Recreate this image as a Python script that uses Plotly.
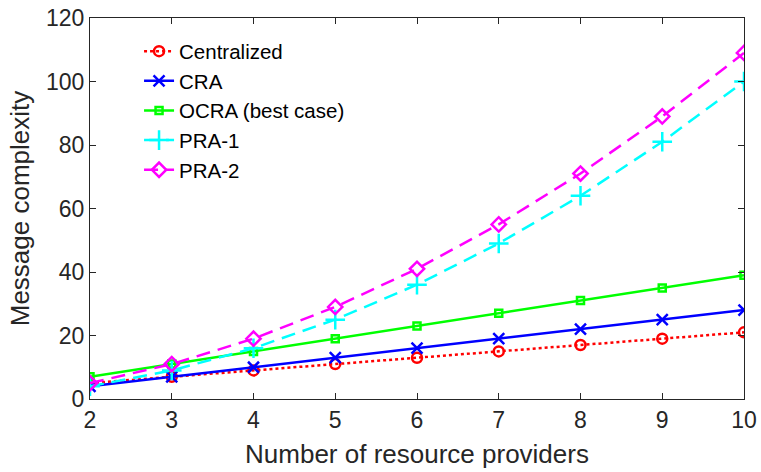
import plotly.graph_objects as go

providers = [2, 3, 4, 5, 6, 7, 8, 9, 10]
centralized = [5, 7, 9, 11, 13, 15, 17, 19, 21]
cra = [4, 7, 10, 13, 16, 19, 22, 25, 28]
ocra_best = [7, 11, 15, 19, 23, 27, 31, 35, 39]
pra1 = [4, 9, 16, 25, 36, 49, 64, 81, 100]
pra2 = [5, 11, 19, 29, 41, 55, 71, 89, 109]

x_ticks = [2, 3, 4, 5, 6, 7, 8, 9, 10]
y_ticks = [0, 20, 40, 60, 80, 100, 120]

FONT = "Liberation Sans, Arial, Helvetica, sans-serif"
AX = "#262626"

series = [
    ("Centralized", centralized, "#ff0000", "dot", "circle-open", 10, 2.5),
    ("CRA", cra, "#0000ff", "solid", "x-thin-open", 11, 2.5),
    ("OCRA (best case)", ocra_best, "#00ff00", "solid", "square-open", 7, 2.5),
    ("PRA-1", pra1, "#00ffff", "14px,8px", "cross-thin-open", 14, 2.5),
    ("PRA-2", pra2, "#ff00ff", "14px,8px", "diamond-open", 11, 2.5),
]

fig = go.Figure()
for name, vals, color, dash, sym, msize, lw in series:
    fig.add_trace(go.Scatter(
        x=providers, y=vals, name=name, mode="lines+markers",
        line=dict(color=color, width=lw, dash=dash),
        marker=dict(symbol=sym, size=msize, color=color,
                    line=dict(color=color, width=2.5)),
    ))

axis_common = dict(
    showline=True, linecolor=AX, linewidth=1.3, mirror="ticks",
    ticks="inside", ticklen=6, tickwidth=1.3, tickcolor=AX,
    showgrid=False, zeroline=False,
    tickfont=dict(family=FONT, size=23, color=AX),
)

fig.update_layout(
    width=761, height=472,
    margin=dict(l=90, r=17, t=18, b=73),
    paper_bgcolor="white", plot_bgcolor="white",
    font=dict(family=FONT, color=AX),
    showlegend=True,
    legend=dict(
        x=0.075, y=0.965, xanchor="left", yanchor="top",
        bgcolor="rgba(0,0,0,0)", borderwidth=0,
        font=dict(family=FONT, size=20.5, color="#000000"),
        itemwidth=30,
    ),
    xaxis=dict(
        range=[2, 10], tickvals=x_ticks,
        title=dict(text="Number of resource providers",
                   font=dict(family=FONT, size=26, color=AX), standoff=13),
        **axis_common,
    ),
    yaxis=dict(
        range=[0, 120], tickvals=y_ticks,
        title=dict(text="Message complexity",
                   font=dict(family=FONT, size=26, color=AX), standoff=8),
        **axis_common,
    ),
)
fig.update_xaxes(automargin=False)
fig.update_yaxes(automargin=False)

fig.write_html(
    "out.html",
    config={"displayModeBar": False},
    post_script="document.body.style.margin='0';document.body.style.overflow='hidden';",
)
